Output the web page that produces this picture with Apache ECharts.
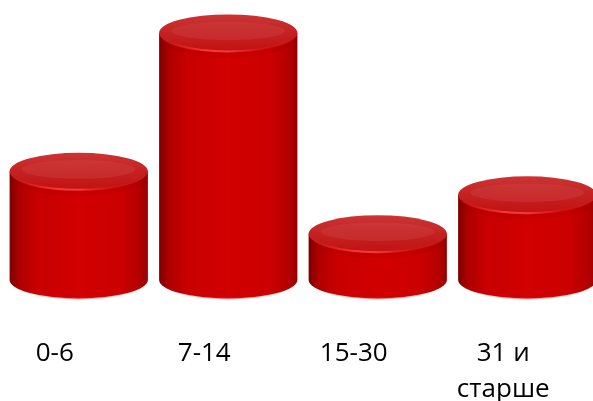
<!DOCTYPE html>
<html>
<head>
<meta charset="utf-8">
<script src="https://cdn.jsdelivr.net/npm/echarts@6/dist/echarts.min.js"></script>
<style>
html,body{margin:0;padding:0;background:#fff;}
#chart{width:593px;height:401px;}
</style>
</head>
<body>
<div id="chart"></div>
<script>
// Data (share of total, %)
var categories = ['0-6', '7-14', '15-30', '31 и\nстарше'];
var values = [22.3, 50.7, 9.5, 17.5];

var chart = echarts.init(document.getElementById('chart'), null, {renderer: 'canvas'});

function ellipsePath(cx, cy, rx, ry) {
  return 'M' + (cx - rx) + ' ' + cy +
    ' A' + rx + ' ' + ry + ' 0 1 0 ' + (cx + rx) + ' ' + cy +
    ' A' + rx + ' ' + ry + ' 0 1 0 ' + (cx - rx) + ' ' + cy + ' Z';
}

function renderItem(params, api) {
  var top = api.coord([api.value(0), api.value(1)]);
  var base = api.coord([api.value(0), 0]);
  var w = api.size([1, 0])[0] * 0.925;
  var rx = w / 2, ry = 18.5;
  var cx = top[0], yT = top[1], yB = base[1];
  var x0 = cx - rx, x1 = cx + rx;
  var bodyPath = 'M' + x0 + ' ' + yT + ' L' + x0 + ' ' + yB +
    ' A' + rx + ' ' + ry + ' 0 0 0 ' + x1 + ' ' + yB +
    ' L' + x1 + ' ' + yT + ' Z';
  var frontRim = 'M' + x0 + ' ' + yT + ' A' + rx + ' ' + ry + ' 0 0 0 ' + x1 + ' ' + yT;
  var bottomRim = 'M' + (x0 + 6) + ' ' + (yB + 4) + ' A' + (rx - 6) + ' ' + (ry - 4) + ' 0 0 0 ' + (x1 - 6) + ' ' + (yB + 4);
  return {
    type: 'group',
    children: [
      {
        type: 'path',
        shape: {pathData: bodyPath},
        style: {
          fill: {type: 'linear', x: 0, y: 0, x2: 1, y2: 0, colorStops: [
            {offset: 0, color: '#7e0000'},
            {offset: 0.07, color: '#ae0000'},
            {offset: 0.2, color: '#c80000'},
            {offset: 0.5, color: '#d20000'},
            {offset: 0.8, color: '#cc0000'},
            {offset: 0.94, color: '#b40000'},
            {offset: 1, color: '#980000'}
          ]}
        }
      },
      {
        type: 'path',
        shape: {pathData: bottomRim},
        style: {
          fill: null,
          lineWidth: 1.5,
          stroke: {type: 'linear', x: 0, y: 0, x2: 1, y2: 0, colorStops: [
            {offset: 0, color: 'rgba(255,40,40,0)'},
            {offset: 0.5, color: 'rgba(255,50,50,0.5)'},
            {offset: 1, color: 'rgba(255,40,40,0)'}
          ]}
        }
      },
      {
        type: 'path',
        shape: {pathData: 'M' + x0 + ' ' + yT + ' A' + rx + ' ' + ry + ' 0 0 0 ' + x1 + ' ' + yT +
          ' L' + x1 + ' ' + (yT + 6) + ' A' + rx + ' ' + ry + ' 0 0 1 ' + x0 + ' ' + (yT + 6) + ' Z'},
        style: {fill: 'rgba(120,0,0,0.10)'}
      },
      {
        type: 'path',
        shape: {pathData: ellipsePath(cx, yT, rx, ry)},
        style: {
          fill: {type: 'linear', x: 0, y: 0, x2: 0, y2: 1, colorStops: [
            {offset: 0, color: '#cc3434'},
            {offset: 0.5, color: '#c42222'},
            {offset: 1, color: '#c21212'}
          ]}
        }
      },
      {
        type: 'path',
        shape: {pathData: ellipsePath(cx, yT - 2, rx * 0.82, ry * 0.5)},
        style: {fill: 'rgba(210,75,75,0.30)'}
      },
      {
        type: 'path',
        shape: {pathData: frontRim},
        style: {
          fill: null,
          lineWidth: 2,
          stroke: {type: 'linear', x: 0, y: 0, x2: 1, y2: 0, colorStops: [
            {offset: 0, color: 'rgba(255,40,40,0)'},
            {offset: 0.35, color: 'rgba(255,60,60,0.9)'},
            {offset: 0.5, color: 'rgba(255,80,80,0.7)'},
            {offset: 0.75, color: 'rgba(255,40,40,0.2)'},
            {offset: 1, color: 'rgba(255,40,40,0)'}
          ]}
        }
      }
    ]
  };
}

var option = {
  animation: false,
  backgroundColor: '#ffffff',
  grid: {left: 4, width: 598, top: 12, bottom: 121, containLabel: false, outerBoundsMode: 'none'},
  xAxis: {
    type: 'category',
    data: categories,
    axisLine: {show: false},
    axisTick: {show: false},
    splitLine: {show: false},
    axisLabel: {
      interval: 0,
      margin: 56,
      color: '#000000',
      fontFamily: 'Open Sans',
      fontSize: 26,
      lineHeight: 36,
      padding: [0, 48, 0, 0]
    }
  },
  yAxis: {
    type: 'value',
    min: 0,
    max: 55,
    show: false
  },
  series: [{
    type: 'custom',
    renderItem: renderItem,
    encode: {x: 0, y: 1},
    clip: false,
    data: values.map(function (v, i) { return [i, v]; })
  }]
};
chart.setOption(option);
</script>
</body>
</html>
